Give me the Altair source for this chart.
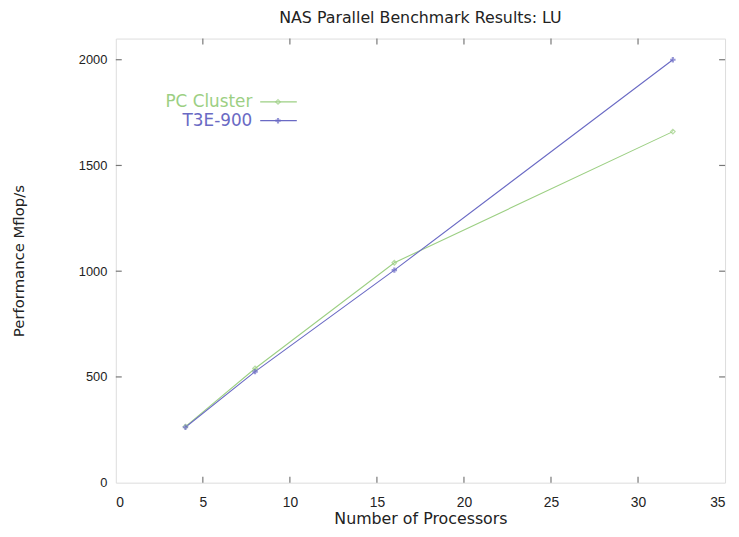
import altair as alt
import pandas as pd

procs = [4, 8, 16, 32]
pc_cluster = [265, 540, 1040, 1660]
t3e_900 = [262, 525, 1005, 2000]
series_names = ["PC Cluster", "T3E-900"]
colors = ["#9ccf83", "#6a6ac4"]
x_ticks = [0, 5, 10, 15, 20, 25, 30, 35]
y_ticks = [0, 500, 1000, 1500, 2000]

W, H = 616, 449
FONT = "Liberation Sans"
TFONT = "DejaVu Sans"

df = pd.DataFrame({
    "procs": procs * 2,
    "perf": pc_cluster + t3e_900,
    "series": [series_names[0]] * 4 + [series_names[1]] * 4,
})

xs = alt.Scale(domain=[0, 35], nice=False)
ys = alt.Scale(domain=[0, 2100], nice=False)
cs = alt.Scale(domain=series_names, range=colors)

x_axis = alt.Axis(values=x_ticks, format="d", title="Number of Processors", grid=False, ticks=False,
                  domain=False, labelPadding=13, labelFontSize=14, labelColor="#222",
                  titleFontSize=16, titleFontWeight="normal", titleColor="#222",
                  titlePadding=1, labelFont=FONT, titleFont=TFONT)
y_axis = alt.Axis(values=y_ticks, format="d", title="Performance Mflop/s", grid=False, ticks=False,
                  domain=False, labelPadding=9, labelFontSize=13, labelColor="#222",
                  titleFontSize=15, titleFontWeight="normal", titleColor="#222",
                  titlePadding=52, labelFont=FONT, titleFont=TFONT)

lines = alt.Chart(df).mark_line(strokeWidth=1.1).encode(
    x=alt.X("procs:Q", scale=xs, axis=x_axis),
    y=alt.Y("perf:Q", scale=ys, axis=y_axis),
    color=alt.Color("series:N", scale=cs, legend=None),
)
pts_pc = alt.Chart(df[df.series == series_names[0]]).mark_point(
    shape="diamond", size=22, filled=False, strokeWidth=1.2).encode(
    x=alt.X("procs:Q", scale=xs), y=alt.Y("perf:Q", scale=ys),
    color=alt.Color("series:N", scale=cs, legend=None))
pts_t3 = alt.Chart(df[df.series == series_names[1]]).mark_point(
    shape="cross", size=30, filled=True, strokeWidth=0).encode(
    x=alt.X("procs:Q", scale=xs), y=alt.Y("perf:Q", scale=ys),
    color=alt.Color("series:N", scale=cs, legend=None))

xt = pd.DataFrame({"t": x_ticks[1:-1]})
yt = pd.DataFrame({"t": y_ticks[1:]})
tick_col = "#777"
xt_bot = alt.Chart(xt).mark_rule(color=tick_col, strokeWidth=1.2).encode(
    x=alt.X("t:Q", scale=xs), y=alt.value(H), y2=alt.value(H - 6))
xt_top = alt.Chart(xt).mark_rule(color=tick_col, strokeWidth=1.2).encode(
    x=alt.X("t:Q", scale=xs), y=alt.value(0), y2=alt.value(6))
yt_left = alt.Chart(yt).mark_rule(color=tick_col, strokeWidth=1.2).encode(
    y=alt.Y("t:Q", scale=ys), x=alt.value(0), x2=alt.value(6))
yt_right = alt.Chart(yt).mark_rule(color=tick_col, strokeWidth=1.2).encode(
    y=alt.Y("t:Q", scale=ys), x=alt.value(W), x2=alt.value(W - 6))

# legend
leg = pd.DataFrame({"series": series_names, "yy": [64, 83]})
leg_text = alt.Chart(leg).mark_text(align="right", baseline="middle", fontSize=17, font=TFONT).encode(
    x=alt.value(138), y=alt.Y("yy:Q", scale=None),
    text="series:N", color=alt.Color("series:N", scale=cs, legend=None))
leg_line = alt.Chart(leg).mark_rule(strokeWidth=1.1).encode(
    x=alt.value(146), x2=alt.value(183), y=alt.Y("yy:Q", scale=None),
    color=alt.Color("series:N", scale=cs, legend=None))
leg_pc = alt.Chart(leg[leg.series == series_names[0]]).mark_point(
    shape="diamond", size=22, strokeWidth=1.2).encode(
    x=alt.value(164), y=alt.Y("yy:Q", scale=None),
    color=alt.Color("series:N", scale=cs, legend=None))
leg_t3 = alt.Chart(leg[leg.series == series_names[1]]).mark_point(
    shape="cross", size=30, filled=True, strokeWidth=0).encode(
    x=alt.value(164), y=alt.Y("yy:Q", scale=None),
    color=alt.Color("series:N", scale=cs, legend=None))

chart = alt.layer(
    lines, pts_pc, pts_t3, xt_bot, xt_top, yt_left, yt_right,
    leg_text, leg_line, leg_pc, leg_t3,
).properties(
    width=W, height=H,
    title=alt.Title("NAS Parallel Benchmark Results: LU", fontSize=16, fontWeight="normal",
                    font=TFONT, color="#222", offset=12),
    autosize=alt.AutoSizeParams(type="none"),
    padding={"left": 109, "top": 28, "right": 6, "bottom": 50},
).configure_view(stroke="#777", strokeWidth=1.5).configure(background="white")

chart.save("out.html", embed_options={"renderer": "svg", "actions": False})
